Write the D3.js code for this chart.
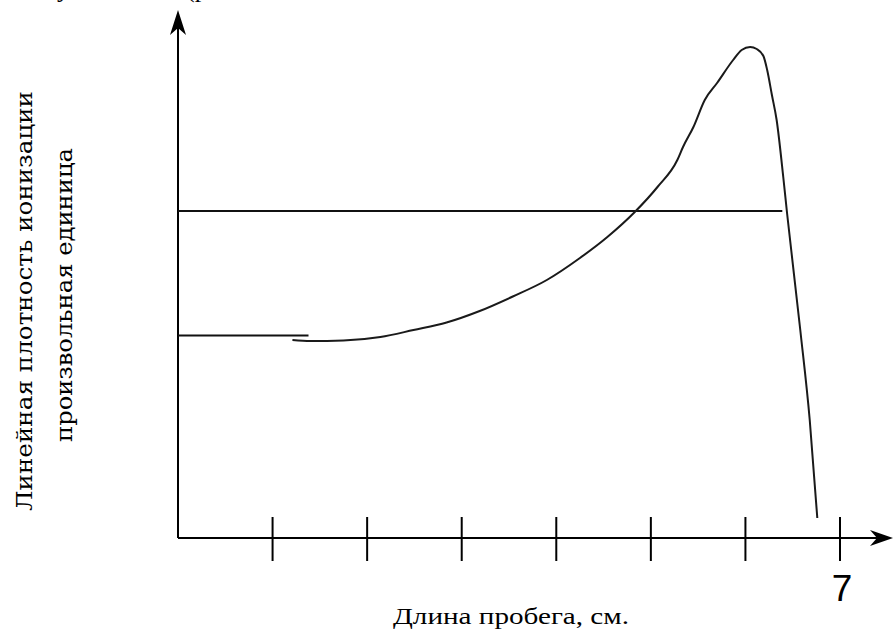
<!DOCTYPE html>
<html><head><meta charset="utf-8">
<script src="https://cdn.jsdelivr.net/npm/d3@7"></script>
<style>html,body{margin:0;padding:0;background:#fff;overflow:hidden}</style>
</head><body>
<svg id="c" width="893" height="631"></svg>
<script>
// ---- data ----
const xTicks = [1, 2, 3, 4, 5, 6, 7];
const xTickLabels = ["", "", "", "", "", "", "7"];
// Bragg curve: run length (cm) vs linear ionization density (arb. units)
const curveX = [1.21, 1.40, 1.75, 2.14, 2.49, 2.84, 3.19, 3.54, 3.90, 4.25, 4.54, 4.83, 5.07, 5.28, 5.34, 5.45, 5.57, 5.70, 5.87, 5.96, 6.05, 6.12, 6.19, 6.23, 6.28, 6.33, 6.40, 6.44, 6.58, 6.68, 6.76];
const curveY = [39.6, 39.4, 39.5, 40.2, 41.6, 43.1, 45.4, 48.3, 51.6, 56.0, 60.2, 65.2, 70.2, 75.6, 78.2, 82.2, 87.6, 91.0, 95.6, 97.6, 98.2, 97.8, 96.4, 93.6, 88.6, 83.6, 72.2, 65.0, 41.6, 23.6, 4.0];
// reference levels: [x start, x end, level]
const levelUpper = [0, 6.39, 65.4];
const levelLower = [0, 1.38, 40.5];
const xLabel = "Длина пробега, см.";
const yLabel1 = "Линейная плотность ионизации";
const yLabel2 = "произвольная единица";

const svg = d3.select("#c");
const x = d3.scaleLinear().domain([0, 7]).range([178, 840]);
const y = d3.scaleLinear().domain([0, 100]).range([538, 38]);

// cut-off text fragments at the top (as in the source image)
svg.append("text").attr("x", 57).attr("y", -3).attr("font-family", "Liberation Serif").attr("font-size", 26).text("у");
svg.append("text").attr("x", 186).attr("y", -3).attr("font-family", "Liberation Serif").attr("font-size", 26).text("(р");

// axes lines
const ax = svg.append("g").attr("stroke", "#000").attr("stroke-width", 2).attr("fill", "none");
ax.append("line").attr("x1", x(0)).attr("x2", 885).attr("y1", y(0)).attr("y2", y(0));
ax.append("line").attr("x1", x(0)).attr("x2", x(0)).attr("y1", y(0)).attr("y2", 16);
// arrowheads
svg.append("path").attr("fill", "#000")
  .attr("d", `M${x(0)},10 L${x(0) + 8},35 L${x(0)},28 L${x(0) - 8},35 Z`);
svg.append("path").attr("fill", "#000")
  .attr("d", `M893,${y(0)} L870,${y(0) - 8} L877,${y(0)} L870,${y(0) + 8} Z`);

// ticks
svg.append("g").selectAll("line").data(xTicks).join("line")
  .attr("x1", d => x(d)).attr("x2", d => x(d))
  .attr("y1", y(0) - 21).attr("y2", y(0) + 23)
  .attr("stroke", "#000").attr("stroke-width", 2);
svg.append("g").selectAll("text").data(xTicks).join("text")
  .attr("x", d => x(d) + 2).attr("y", 601)
  .attr("text-anchor", "middle")
  .attr("font-family", "Liberation Sans, Arial").attr("font-size", 37)
  .text((d, i) => xTickLabels[i]);

// reference lines
[levelUpper, levelLower].forEach(l => {
  svg.append("line")
    .attr("x1", x(l[0])).attr("x2", x(l[1]))
    .attr("y1", y(l[2])).attr("y2", y(l[2]))
    .attr("stroke", "#111").attr("stroke-width", 2);
});

// curve
const pts = curveX.map((v, i) => [v, curveY[i]]);
svg.append("path").datum(pts)
  .attr("fill", "none").attr("stroke", "#1a1a1a").attr("stroke-width", 2)
  .attr("d", d3.line().x(d => x(d[0])).y(d => y(d[1])).curve(d3.curveMonotoneX));

// axis labels
svg.append("text").attr("x", 511).attr("y", 624)
  .attr("text-anchor", "middle")
  .attr("font-family", "Liberation Serif").attr("font-size", 24)
  .attr("textLength", 236).attr("lengthAdjust", "spacingAndGlyphs")
  .text(xLabel);
svg.append("text").attr("transform", "translate(32,301) rotate(-90)")
  .attr("text-anchor", "middle")
  .attr("font-family", "DejaVu Serif").attr("font-size", 22)
  .attr("textLength", 420).attr("lengthAdjust", "spacingAndGlyphs")
  .text(yLabel1);
svg.append("text").attr("transform", "translate(72,295) rotate(-90)")
  .attr("text-anchor", "middle")
  .attr("font-family", "DejaVu Serif").attr("font-size", 22)
  .attr("textLength", 294).attr("lengthAdjust", "spacingAndGlyphs")
  .text(yLabel2);
</script>
</body></html>
